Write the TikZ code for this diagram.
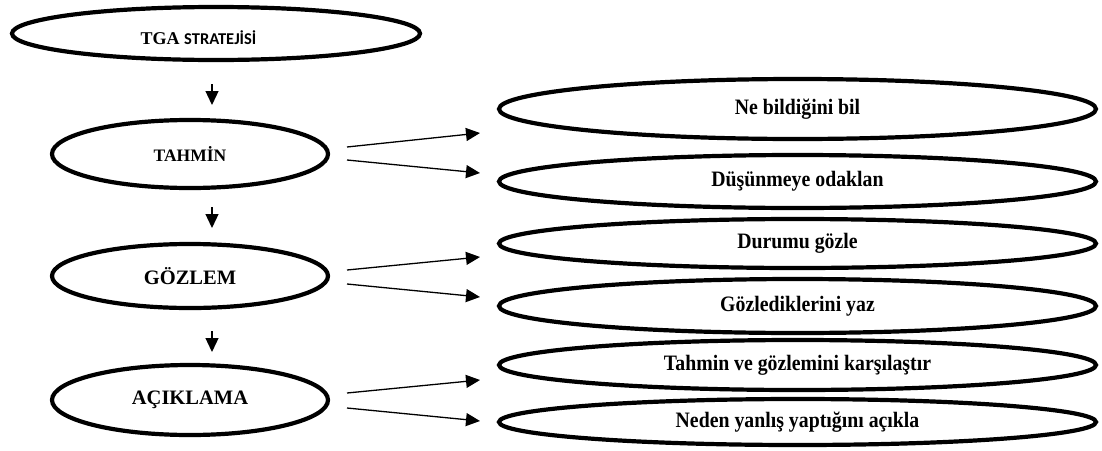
\documentclass[tikz,border=0pt]{standalone}
\usepackage{fontspec}
\setmainfont{Liberation Serif}
\newfontfamily\calfont{Carlito}
\newfontfamily\condfont[FakeStretch=0.9]{Liberation Serif}
\usetikzlibrary{shapes.geometric,arrows.meta}
\begin{document}
\begin{tikzpicture}[x=1pt,y=-1pt,
  oval/.style={ellipse, draw, line width=4.2pt, inner sep=0pt},
  lefttext/.style={font=\fontsize{20.5}{24}\selectfont\bfseries},
  righttext/.style={font=\condfont\fontsize{22}{26}\selectfont\bfseries},
  conn/.style={line width=1.3pt, -{Triangle[length=14pt,width=13pt]}}]
\useasboundingbox (0,0) rectangle (1102,450);

% left column
\node[oval, minimum width=408pt, minimum height=53pt] (tga) at (216,33.5) {};
\node[inner sep=0pt] (tgatext) at (198.5,37.5) {\fontsize{18}{20}\selectfont\bfseries TGA \calfont\fontsize{16.5}{18}\selectfont STRATEJİSİ};
\node[oval, minimum width=276pt, minimum height=68pt, font=\fontsize{17.5}{20}\selectfont\bfseries] (tahmin) at (190,154) {TAHMİN};
\node[oval, minimum width=276pt, minimum height=64pt, lefttext] (gozlem) at (190,276) {GÖZLEM};
\node[oval, minimum width=276pt, minimum height=70pt, lefttext] (aciklama) at (190,400) {AÇIKLAMA};

% right column
\node[oval, minimum width=597pt, minimum height=60pt, righttext] (r1) at (797.5,109) {Ne bildiğini bil};
\node[oval, minimum width=597pt, minimum height=53pt, righttext] (r2) at (797.5,181.5) {Düşünmeye odaklan};
\node[oval, minimum width=597pt, minimum height=49pt, righttext] (r3) at (797.5,243.5) {Durumu gözle};
\node[oval, minimum width=597pt, minimum height=54pt, righttext] (r4) at (797.5,306) {Gözlediklerini yaz};
\node[oval, minimum width=597pt, minimum height=50pt, righttext] (r5) at (797.5,365) {Tahmin ve gözlemini karşılaştır};
\node[oval, minimum width=597pt, minimum height=46pt, righttext] (r6) at (797.5,422) {Neden yanlış yaptığını açıkla};

% down arrows
\coordinate (d1s) at (212,84);  \coordinate (d1e) at (212,105);
\coordinate (d2s) at (212,207); \coordinate (d2e) at (212,228);
\coordinate (d3s) at (212,331); \coordinate (d3e) at (212,352);
\draw[conn] (d1s) -- (d1e);
\draw[conn] (d2s) -- (d2e);
\draw[conn] (d3s) -- (d3e);

% side arrows
\coordinate (a1s) at (347,147); \coordinate (a1e) at (480,133);
\coordinate (a2s) at (347,160); \coordinate (a2e) at (480,173);
\coordinate (b1s) at (347,270); \coordinate (b1e) at (480,257);
\coordinate (b2s) at (347,284); \coordinate (b2e) at (480,297);
\coordinate (c1s) at (347,393); \coordinate (c1e) at (480,380);
\coordinate (c2s) at (347,408); \coordinate (c2e) at (480,421);
\draw[conn] (a1s) -- (a1e);
\draw[conn] (a2s) -- (a2e);
\draw[conn] (b1s) -- (b1e);
\draw[conn] (b2s) -- (b2e);
\draw[conn] (c1s) -- (c1e);
\draw[conn] (c2s) -- (c2e);
\end{tikzpicture}
\end{document}
